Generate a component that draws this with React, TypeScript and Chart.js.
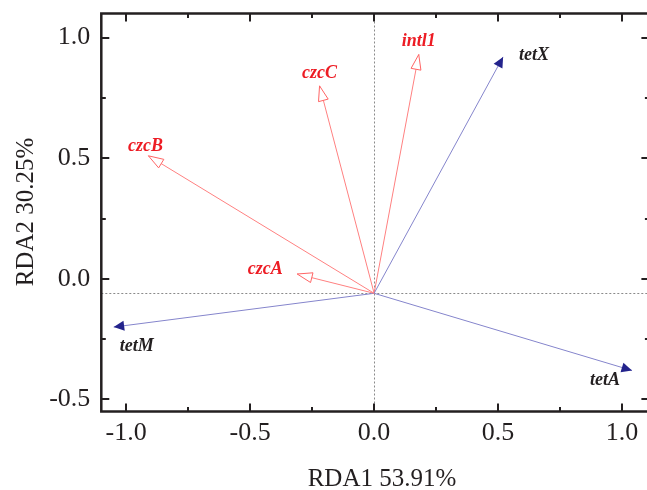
import React, { useEffect, useRef } from "react";
import { Chart, registerables } from "chart.js";

Chart.register(...registerables);

// ---------- data ----------
const genes = ["tetX", "intl1", "czcC", "czcB", "czcA", "tetM", "tetA"];
const rda1 = [0.52, 0.18, -0.22, -0.91, -0.31, -1.05, 1.04];
const rda2 = [0.92, 0.93, 0.8, 0.51, 0.02, -0.2, -0.38];
const geneGroup = ["tet", "other", "other", "other", "other", "tet", "tet"];
const originRDA1 = 0;
const originRDA2 = -0.06;
const xTickValues = [-1.0, -0.5, 0.0, 0.5, 1.0];
const yTickValues = [-0.5, 0.0, 0.5, 1.0];
const xTitle = "RDA1 53.91%";
const yTitle = "RDA2 30.25%";

// ---------- styles ----------
const labelOffsets: [number, number][] = [
  [31, -2],
  [0, -13],
  [0, -13],
  [-3, -9],
  [-32, -5],
  [23, 19],
  [-27, 10],
];
const groupStyle: Record<string, any> = {
  tet: { line: "#8585cc", head: "#23238c", text: "#231f20", open: false },
  other: { line: "#ff8080", head: "#ff6464", text: "#ed1c24", open: true },
};
const FRAME = "#231f20";
const SERIF = "'Liberation Serif', 'Times New Roman', serif";

function minorOf(major: number[], lo: number, hi: number) {
  const out: number[] = [];
  const step = major[1] - major[0];
  const all = [major[0] - step, ...major, major[major.length - 1] + step];
  for (let i = 0; i < all.length - 1; i++) {
    const m = (all[i] + all[i + 1]) / 2;
    if (m > lo && m < hi) out.push(m);
  }
  return out;
}

const rdaPlugin = {
  id: "rdaPlugin",
  beforeDatasetsDraw(chart: any) {
    const { ctx, chartArea, scales } = chart;
    const ox = Math.round(scales.x.getPixelForValue(originRDA1)) + 0.5;
    const oy = Math.round(scales.y.getPixelForValue(originRDA2)) + 0.5;
    ctx.save();
    ctx.strokeStyle = "#8a8a8a";
    ctx.lineWidth = 1;
    ctx.setLineDash([2, 2]);
    ctx.beginPath();
    ctx.moveTo(ox, chartArea.top);
    ctx.lineTo(ox, chartArea.bottom);
    ctx.moveTo(chartArea.left, oy);
    ctx.lineTo(chartArea.right, oy);
    ctx.stroke();
    ctx.restore();
  },
  afterDatasetsDraw(chart: any) {
    const { ctx } = chart;
    ctx.save();
    genes.forEach((g, i) => {
      const meta = chart.getDatasetMeta(i);
      const p0 = meta.data[0];
      const p1 = meta.data[1];
      const st = groupStyle[geneGroup[i]];
      const ang = Math.atan2(p1.y - p0.y, p1.x - p0.x);
      const len = st.open ? 15 : 10.5;
      const hw = 5;
      const bx = p1.x - Math.cos(ang) * len;
      const by = p1.y - Math.sin(ang) * len;
      const nx = -Math.sin(ang);
      const ny = Math.cos(ang);
      ctx.beginPath();
      ctx.moveTo(p1.x, p1.y);
      ctx.lineTo(bx + nx * hw, by + ny * hw);
      ctx.lineTo(bx - nx * hw, by - ny * hw);
      ctx.closePath();
      if (st.open) {
        ctx.fillStyle = "#ffffff";
        ctx.fill();
        ctx.strokeStyle = st.head;
        ctx.lineWidth = 1;
        ctx.stroke();
      } else {
        ctx.fillStyle = st.head;
        ctx.fill();
      }
      ctx.font = `italic bold 18px ${SERIF}`;
      ctx.fillStyle = st.text;
      ctx.textAlign = "center";
      ctx.textBaseline = "middle";
      const [dx, dy] = labelOffsets[i];
      ctx.fillText(g, p1.x + dx, p1.y + dy);
    });
    ctx.restore();
  },
  afterDraw(chart: any) {
    const { ctx, chartArea, scales } = chart;
    const { left, right, top, bottom } = chartArea;
    ctx.save();
    ctx.strokeStyle = FRAME;
    ctx.lineWidth = 2.5;
    ctx.strokeRect(left, top, right - left, bottom - top);
    ctx.lineWidth = 2;
    const major = 8;
    const minor = 4.5;
    const xs = scales.x;
    const ys = scales.y;
    const xMin = minorOf(xTickValues, xs.min, xs.max);
    const yMin = minorOf(yTickValues, ys.min, ys.max);
    ctx.beginPath();
    const vt = (v: number, l: number) => {
      const px = Math.round(xs.getPixelForValue(v));
      ctx.moveTo(px, bottom);
      ctx.lineTo(px, bottom - l);
      ctx.moveTo(px, top);
      ctx.lineTo(px, top + l);
    };
    const ht = (v: number, l: number) => {
      const py = Math.round(ys.getPixelForValue(v));
      ctx.moveTo(left, py);
      ctx.lineTo(left + l, py);
      ctx.moveTo(right, py);
      ctx.lineTo(right - l, py);
    };
    xTickValues.forEach((v) => vt(v, major));
    xMin.forEach((v) => vt(v, minor));
    yTickValues.forEach((v) => ht(v, major));
    yMin.forEach((v) => ht(v, minor));
    ctx.stroke();

    ctx.fillStyle = FRAME;
    ctx.font = `25px ${SERIF}`;
    ctx.textAlign = "center";
    ctx.textBaseline = "alphabetic";
    ctx.fillText(xTitle, 382, 486);
    ctx.translate(33, 212);
    ctx.rotate(-Math.PI / 2);
    ctx.fillText(yTitle, 0, 0);
    ctx.restore();
  },
};

export default function App() {
  const ref = useRef<HTMLCanvasElement | null>(null);
  useEffect(() => {
    if (!ref.current) return;
    const datasets = genes.map((g, i) => ({
      label: g,
      data: [
        { x: originRDA1, y: originRDA2 },
        { x: rda1[i], y: rda2[i] },
      ],
      showLine: true,
      borderColor: groupStyle[geneGroup[i]].line,
      borderWidth: 1,
      pointRadius: 0,
      fill: false,
    }));
    const fmt = (v: any) => Number(v).toFixed(1);
    const chart = new Chart(ref.current, {
      type: "scatter",
      data: { datasets },
      plugins: [rdaPlugin],
      options: {
        animation: false,
        responsive: false,
        devicePixelRatio: 1,
        layout: { padding: { left: 0, top: 13.5, right: 10.6, bottom: 0 } },
        plugins: { legend: { display: false }, tooltip: { enabled: false } },
        scales: {
          x: {
            type: "linear",
            min: -1.1,
            max: 1.11,
            grid: { display: false, drawTicks: false },
            border: { display: false },
            afterBuildTicks: (axis: any) => {
              axis.ticks = xTickValues.map((value) => ({ value }));
            },
            afterFit: (axis: any) => {
              axis.height = 78.5;
              axis.paddingLeft = 0;
              axis.paddingRight = 0;
            },
            ticks: {
              callback: fmt,
              padding: 6,
              maxRotation: 0,
              autoSkip: false,
              color: FRAME,
              font: { family: SERIF, size: 26 },
            },
          },
          y: {
            type: "linear",
            min: -0.55,
            max: 1.1,
            grid: { display: false, drawTicks: false },
            border: { display: false },
            afterBuildTicks: (axis: any) => {
              axis.ticks = yTickValues.map((value) => ({ value }));
            },
            afterFit: (axis: any) => {
              axis.width = 101.3;
              axis.paddingTop = 0;
              axis.paddingBottom = 0;
            },
            ticks: {
              callback: fmt,
              padding: 11,
              autoSkip: false,
              color: FRAME,
              font: { family: SERIF, size: 26 },
            },
          },
        },
      },
    } as any);
    return () => chart.destroy();
  }, []);
  return (
    <div
      style={{
        position: "fixed",
        left: 0,
        top: 0,
        width: 647,
        height: 490,
        overflow: "hidden",
        background: "#ffffff",
      }}
    >
      <canvas ref={ref} width={660} height={490} style={{ display: "block" }} />
    </div>
  );
}
